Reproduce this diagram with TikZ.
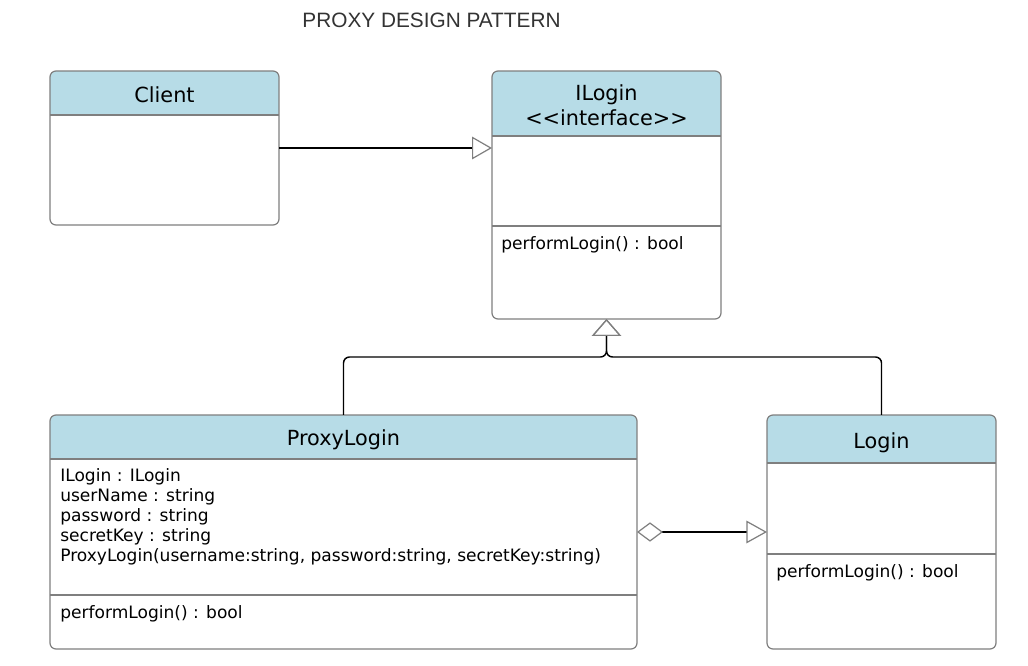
\documentclass[tikz,border=0pt]{standalone}
\usepackage{fontspec}
\setmainfont{DejaVu Sans}
\newfontfamily\titlefont{Liberation Sans}
\usetikzlibrary{arrows.meta,calc}
\definecolor{hdrblue}{HTML}{B7DCE7}
\definecolor{bordergray}{HTML}{7F7F7F}
\definecolor{titlegray}{HTML}{333333}
\tikzset{
  classbox/.style={draw=bordergray, line width=0.9pt, rounded corners=4.5pt, inner sep=0pt, outer sep=0pt},
  divider/.style={draw=bordergray, line width=0.9pt},
  hdrtext/.style={font=\fontsize{15.6}{18.75}\selectfont, align=center, inner sep=0pt},
  bodytext/.style={font=\fontsize{12.8}{15}\selectfont, align=left, inner sep=0pt},
  conn/.style={line width=1.1pt, black},
  realize/.style={-{Triangle[open, length=15pt, width=17pt, line width=0.9pt, color=bordergray]}},
  inherit/.style={-{Triangle[open, length=12.75pt, width=22pt, line width=0.9pt, color=bordergray]}},
}
\begin{document}
\begin{tikzpicture}[x=0.75pt, y=-0.75pt]
\useasboundingbox (0,0) rectangle (1028,666);
\fill[white] (0,0) rectangle (1028,666);

% title
\node[font=\titlefont\fontsize{15.6}{18}\selectfont, text=titlegray, inner sep=0pt] (title) at (431.5,20) {PROXY DESIGN PATTERN};

% header fills (clipped to rounded boxes)
\begin{scope}
\clip[rounded corners=4.5pt] (50,71) rectangle (279,225);
\fill[hdrblue] (50,71) rectangle (279,115);
\end{scope}
\begin{scope}
\clip[rounded corners=4.5pt] (492,71) rectangle (721,319);
\fill[hdrblue] (492,71) rectangle (721,136);
\end{scope}
\begin{scope}
\clip[rounded corners=4.5pt] (50,415) rectangle (637,649);
\fill[hdrblue] (50,415) rectangle (637,459);
\end{scope}
\begin{scope}
\clip[rounded corners=4.5pt] (767,415) rectangle (996,649);
\fill[hdrblue] (767,415) rectangle (996,463);
\end{scope}

% class boxes
\node[classbox, minimum width=171.75pt, minimum height=115.5pt] (client) at (164.5,148) {};
\node[classbox, minimum width=171.75pt, minimum height=186pt] (ilogin) at (606.5,195) {};
\node[classbox, minimum width=440.25pt, minimum height=175.5pt] (proxy) at (343.5,532) {};
\node[classbox, minimum width=171.75pt, minimum height=175.5pt] (login) at (881.5,532) {};

% dividers
\draw[divider] (50,115) -- (279,115);
\draw[divider] (492,136) -- (721,136);
\draw[divider] (492,226) -- (721,226);
\draw[divider] (50,459) -- (637,459);
\draw[divider] (50,595) -- (637,595);
\draw[divider] (767,463) -- (996,463);
\draw[divider] (767,554) -- (996,554);

% texts
\node[hdrtext] (clientname) at (164.5,95) {Client};
\node[hdrtext] (iloginname) at (606.5,105.5) {ILogin\\{<}{<}interface{>}{>}};
\node[bodytext, anchor=west] (iloginop) at (501,245) {performLogin() : bool};
\node[hdrtext] (proxyname) at (343.5,440) {ProxyLogin};
\node[bodytext, anchor=north west] (proxyattr) at (60,468.5) {ILogin : ILogin\\userName : string\\password : string\\secretKey : string\\ProxyLogin(username:string, password:string, secretKey:string)};
\node[bodytext, anchor=west] (proxyop) at (60,614) {performLogin() : bool};
\node[hdrtext] (loginname) at (881.5,443) {Login};
\node[bodytext, anchor=west] (loginop) at (776,573) {performLogin() : bool};

% connectors
\coordinate (j) at ($(ilogin.south)+(0,38)$);
\draw[conn, realize] (client.east) -- (client.east -| ilogin.west);
\draw[conn, inherit, rounded corners=4.5pt] (proxy.north) |- (j) -- (ilogin.south);
\draw[conn, inherit, rounded corners=4.5pt] (login.north) |- (j) -- (ilogin.south);
\draw[conn, {Diamond[open, length=19.5pt, width=14.5pt, line width=0.9pt, color=bordergray]}-{Triangle[open, length=15.5pt, width=17pt, line width=0.9pt, color=bordergray]}] (proxy.east) -- (login.west);
\end{tikzpicture}
\end{document}
